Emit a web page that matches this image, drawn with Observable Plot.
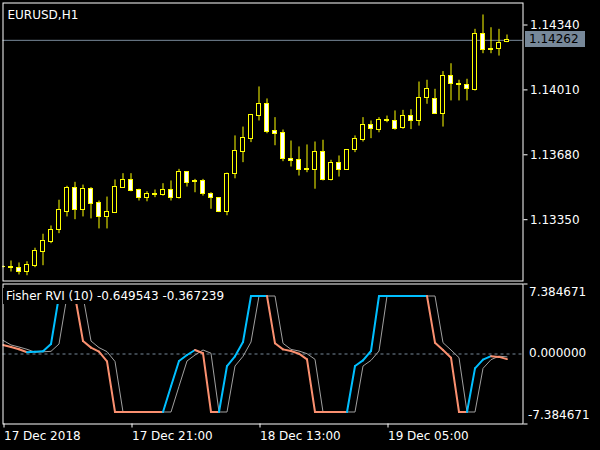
<!DOCTYPE html>
<html><head><meta charset="utf-8">
<script src="https://cdn.jsdelivr.net/npm/d3@7"></script>
<script src="https://cdn.jsdelivr.net/npm/@observablehq/plot@0.6"></script>
<style>
html,body{margin:0;padding:0;background:#000;}
#wrap{position:relative;width:600px;height:450px;overflow:hidden;background:#000;font-family:"DejaVu Sans",sans-serif;}
#wrap svg{display:block;}
.ov{position:absolute;font-size:12px;line-height:16px;white-space:nowrap;box-sizing:border-box;}
</style></head><body><div id="wrap"></div>
<script>
const symbolTitle = "EURUSD,H1";
const indicatorTitle = "Fisher RVI (10) -0.649543 -0.367239";

const opens  = [1.13110,1.13109,1.13103,1.13086,1.13116,1.13187,1.13238,1.13296,1.13391,1.13510,1.13401,1.13505,1.13435,1.13365,1.13386,1.13513,1.13550,1.13499,1.13459,1.13479,1.13474,1.13499,1.13462,1.13591,1.13545,1.13547,1.13479,1.13459,1.13391,1.13581,1.13696,1.13760,1.13877,1.13937,1.13801,1.13789,1.13657,1.13652,1.13608,1.13601,1.13693,1.13553,1.13637,1.13604,1.13703,1.13757,1.13830,1.13808,1.13857,1.13852,1.13815,1.13876,1.13852,1.13970,1.13965,1.13889,1.14079,1.14040,1.14033,1.14008,1.14293,1.14218,1.14216,1.14252];
const highs  = [1.13115,1.13140,1.13130,1.13136,1.13205,1.13276,1.13318,1.13449,1.13520,1.13540,1.13526,1.13513,1.13445,1.13465,1.13552,1.13584,1.13584,1.13505,1.13492,1.13501,1.13533,1.13547,1.13606,1.13593,1.13555,1.13555,1.13487,1.13461,1.13587,1.13776,1.13821,1.13885,1.14025,1.13964,1.13869,1.13806,1.13750,1.13720,1.13730,1.13745,1.13754,1.13652,1.13674,1.13705,1.13776,1.13869,1.13852,1.13869,1.13877,1.13903,1.13906,1.13909,1.14050,1.14059,1.14013,1.14103,1.14143,1.14059,1.14064,1.14318,1.14391,1.14326,1.14318,1.14289];
const lows   = [1.13104,1.13084,1.13069,1.13065,1.13106,1.13116,1.13228,1.13279,1.13364,1.13350,1.13364,1.13354,1.13303,1.13303,1.13384,1.13511,1.13492,1.13445,1.13441,1.13462,1.13470,1.13445,1.13455,1.13516,1.13487,1.13470,1.13403,1.13386,1.13370,1.13558,1.13640,1.13742,1.13852,1.13787,1.13726,1.13645,1.13618,1.13572,1.13589,1.13505,1.13547,1.13547,1.13567,1.13602,1.13691,1.13745,1.13762,1.13792,1.13843,1.13805,1.13810,1.13808,1.13826,1.13937,1.13886,1.13821,1.13954,1.13954,1.13954,1.14004,1.14194,1.14194,1.14182,1.14250];
const closes = [1.13108,1.13104,1.13086,1.13120,1.13191,1.13242,1.13296,1.13398,1.13510,1.13401,1.13505,1.13431,1.13364,1.13389,1.13516,1.13550,1.13496,1.13459,1.13479,1.13477,1.13499,1.13462,1.13591,1.13538,1.13542,1.13479,1.13459,1.13391,1.13581,1.13699,1.13764,1.13882,1.13937,1.13797,1.13787,1.13657,1.13650,1.13604,1.13603,1.13693,1.13553,1.13637,1.13604,1.13703,1.13760,1.13830,1.13810,1.13855,1.13853,1.13813,1.13877,1.13852,1.13970,1.14013,1.13889,1.14079,1.14038,1.14036,1.14013,1.14293,1.14211,1.14213,1.14247,1.14262];
const currentPrice = 1.14262;
const priceTicks = [1.14340, 1.14010, 1.13680, 1.13350];

const fisher = [1.15,0.89,0.60,0.23,0.28,0.34,1.27,7.384671,7.384671,7.384671,1.65,0.81,0.30,-0.95,-7.384671,-7.384671,-7.384671,-7.384671,-7.384671,-7.384671,-7.384671,-4.11,-0.89,-0.13,0.51,0.10,-7.384671,-7.384671,-1.53,-0.30,1.53,7.384671,7.384671,7.384671,1.36,0.59,0.38,0.04,-0.68,-7.384671,-7.384671,-7.384671,-7.384671,-7.384671,-1.53,-0.81,0.38,7.384671,7.384671,7.384671,7.384671,7.384671,7.384671,7.384671,1.44,0.51,-0.47,-7.384671,-7.384671,-1.83,-0.72,-0.28,-0.367239,-0.649543];
const signal = [1.74,1.15,0.89,0.60,0.23,0.28,0.34,1.27,7.384671,7.384671,7.384671,1.65,0.81,0.30,-0.95,-7.384671,-7.384671,-7.384671,-7.384671,-7.384671,-7.384671,-7.384671,-4.11,-0.89,-0.13,0.51,0.10,-7.384671,-7.384671,-1.53,-0.30,1.53,7.384671,7.384671,7.384671,1.36,0.59,0.38,0.04,-0.68,-7.384671,-7.384671,-7.384671,-7.384671,-7.384671,-1.53,-0.81,0.38,7.384671,7.384671,7.384671,7.384671,7.384671,7.384671,7.384671,1.44,0.51,-0.47,-7.384671,-7.384671,-1.83,-0.72,-0.28,-0.367239];
const indTicks = [7.384671, 0, -7.384671];
const indTickLabels = ["7.384671", "0.000000", "-7.384671"];
const timeTickBars = [0, 16, 32, 48];
const timeLabels = ["17 Dec 2018", "17 Dec 21:00", "18 Dec 13:00", "19 Dec 05:00"];

const FONT = '"DejaVu Sans", sans-serif';
const baseStyle = {background:"#000", color:"#fff", fontFamily:FONT, fontSize:"12px", overflow:"visible"};
const UP = "#00bfff", DOWN = "#fa9070";

const candles = opens.map((o, i) => ({i, open:o, high:highs[i], low:lows[i], close:closes[i]}));

const main = Plot.plot({
  width:600, height:282,
  marginLeft:2.5, marginRight:77.5, marginTop:2.5, marginBottom:1.5,
  style:baseStyle,
  x:{type:"linear", domain:[0, 65], axis:null},
  y:{type:"linear", domain:[1.1303824, 1.1445187], axis:null},
  color:{type:"identity"},
  marks:[
    Plot.ruleY([currentPrice], {stroke:"#778899"}),
    Plot.ruleX(candles, {x:"i", y1:"low", y2:"high", stroke:"#ffff00", clip:true}),
    Plot.rect(candles, {x1:d => d.i - 0.25, x2:d => d.i + 0.25, y1:"open", y2:"close",
      fill:d => d.close < d.open ? "#ffffff" : "#000000", stroke:"#ffff00", clip:true, shapeRendering:"crispEdges"}),
    Plot.frame({stroke:"#ffffff"}),
    Plot.text([symbolTitle], {frameAnchor:"top-left", text:d => d, dx:4.5, dy:7, lineAnchor:"top", textAnchor:"start", fill:"#ffffff"}),
    Plot.axisY({anchor:"right", ticks:priceTicks, tickSize:4, tickPadding:3, tickFormat:d => d.toFixed(5)})
  ]
});

const segs = [];
let up = false;
for (let i = 1; i < fisher.length; i++) {
  if (fisher[i] > fisher[i-1]) up = true; else if (fisher[i] < fisher[i-1]) up = false;
  segs.push({x1:i-1, y1:fisher[i-1], x2:i, y2:fisher[i], c: up ? UP : DOWN});
}
const sig = signal.map((v, i) => ({i, v}));
const labelData = indTicks.map((v, k) => ({v, t:indTickLabels[k]}));

const ind = Plot.plot({
  width:600, height:168,
  marginLeft:2.5, marginRight:77.5, marginTop:1.5, marginBottom:26.5,
  style:baseStyle,
  x:{type:"linear", domain:[0, 65], axis:null},
  y:{type:"linear", domain:[-8.913, 8.913], axis:null},
  color:{type:"identity"},
  marks:[
    Plot.ruleY([0], {stroke:"#778899", strokeDasharray:"3,3"}),
    Plot.line(sig, {x:"i", y:"v", stroke:"#a0a0a0", strokeWidth:1, clip:true}),
    Plot.link(segs, {x1:"x1", y1:"y1", x2:"x2", y2:"y2", stroke:"c", strokeWidth:2, strokeLinecap:"round", clip:true}),
    Plot.frame({stroke:"#ffffff"}),
    Plot.text(labelData.slice(0,1), {y:"v", text:"t", frameAnchor:"right", dx:6, dy:-4, textAnchor:"start", fill:"#ffffff"}),
    Plot.text(labelData.slice(1,2), {y:"v", text:"t", frameAnchor:"right", dx:6, dy:-1, textAnchor:"start", fill:"#ffffff"}),
    Plot.text(labelData.slice(2,3), {y:"v", text:"t", frameAnchor:"right", dx:5, dy:3.5, textAnchor:"start", fill:"#ffffff"}),
    Plot.axisY({anchor:"right", ticks:[-8.913, 8.913], tickSize:4, tickFormat:() => ""}),
    Plot.axisX({anchor:"bottom", ticks:timeTickBars, tickSize:4, tickPadding:3.5, textAnchor:"start", dx:1,
      tickFormat:d => timeLabels[timeTickBars.indexOf(d)]})
  ]
});

const wrap = document.getElementById("wrap");
wrap.appendChild(main);
wrap.appendChild(ind);

const titleDiv = document.createElement("div");
titleDiv.className = "ov";
titleDiv.textContent = indicatorTitle;
Object.assign(titleDiv.style, {left:"3px", top:"288px", height:"16px", padding:"0 3px", background:"#000", color:"#fff"});
wrap.appendChild(titleDiv);

const py = main.scale("y").apply(currentPrice);
const badge = document.createElement("div");
badge.className = "ov";
badge.textContent = currentPrice.toFixed(5);
Object.assign(badge.style, {left:"525px", top:(py - 8.5) + "px", width:"60px", height:"16px", paddingLeft:"4px", background:"#778899", color:"#000"});
wrap.appendChild(badge);
</script>
</body></html>
